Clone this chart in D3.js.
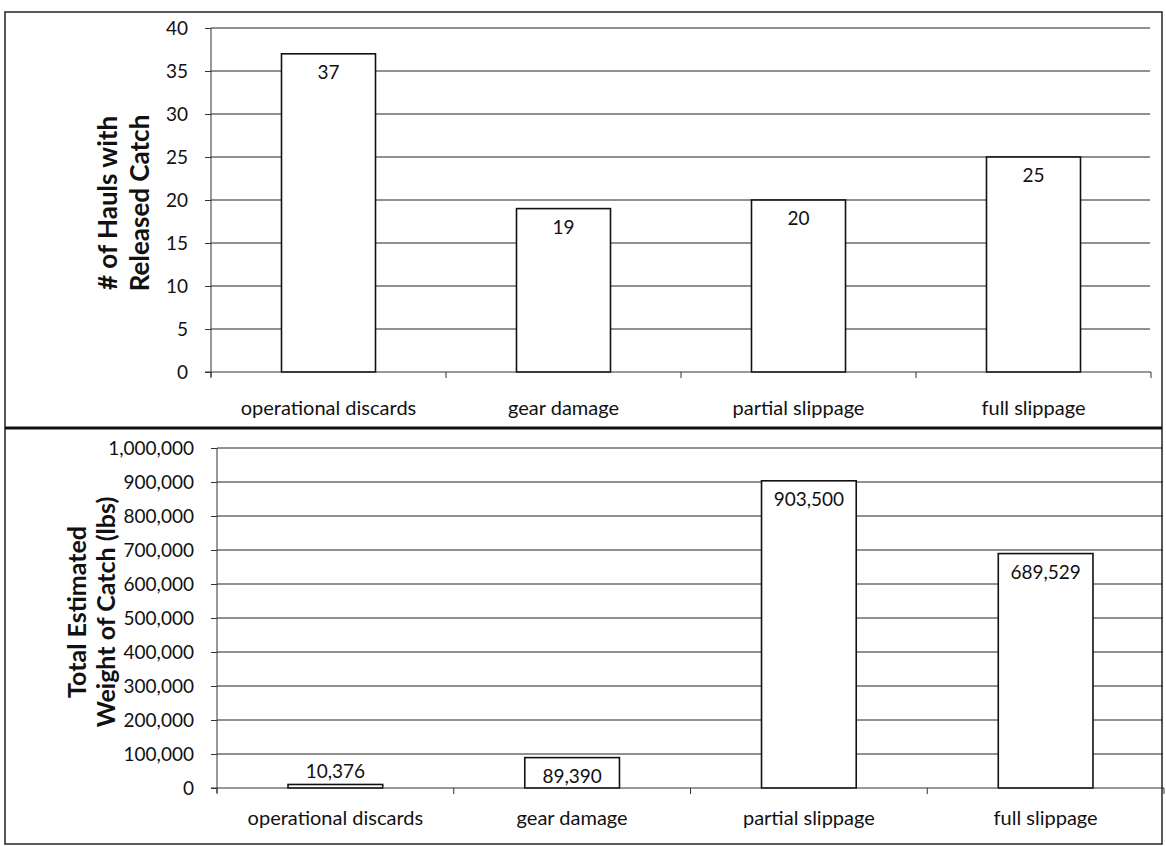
<!DOCTYPE html>
<html>
<head>
<meta charset="utf-8">
<script src="https://cdn.jsdelivr.net/npm/d3@7"></script>
<style>
  body { margin: 0; background: #fff; }
  svg { display: block; font-family: Lato, "Open Sans", sans-serif; }
  .grid line { stroke: #222; stroke-width: 1; }
  .axis path, .axis line { stroke: #333; }
  .bar { fill: #fff; stroke: #111; stroke-width: 1.6; }
</style>
</head>
<body>
<div id="container"></div>
<script>
const categories = ["operational discards", "gear damage", "partial slippage", "full slippage"];
const haulCounts = [37, 19, 20, 25];
const catchWeights = [10376, 89390, 903500, 689529];
const haulTicks = [0, 5, 10, 15, 20, 25, 30, 35, 40];
const weightTicks = [0, 100000, 200000, 300000, 400000, 500000, 600000, 700000, 800000, 900000, 1000000];

const W = 1166, H = 846;

const svg = d3.select("#container")
    .append("svg")
    .attr("width", W)
    .attr("height", H);

// frames
svg.append("rect")
    .attr("x", 5).attr("y", 12)
    .attr("width", 1157).attr("height", 832)
    .attr("fill", "none").attr("stroke", "#222").attr("stroke-width", 1.5);
svg.append("line")
    .attr("x1", 5).attr("x2", 1162)
    .attr("y1", 428).attr("y2", 428)
    .attr("stroke", "#111").attr("stroke-width", 3);

function drawPanel(opts) {
    const x = d3.scaleBand()
        .domain(categories)
        .range([opts.left, opts.right])
        .paddingInner(0)
        .paddingOuter(0);

    const y = d3.scaleLinear()
        .domain([0, opts.max])
        .range([opts.bottom, opts.top]);

    const g = svg.append("g");

    // gridlines
    g.append("g")
        .attr("class", "grid")
        .selectAll("line")
        .data(opts.ticks.filter(t => t > 0))
        .enter()
        .append("line")
        .attr("x1", opts.left)
        .attr("x2", opts.gridRight)
        .attr("y1", d => y(d))
        .attr("y2", d => y(d));

    // bars
    const bw = x.bandwidth() * 0.4;
    g.selectAll("rect.bar")
        .data(opts.values)
        .enter()
        .append("rect")
        .attr("class", "bar")
        .attr("x", (d, i) => x(categories[i]) + (x.bandwidth() - bw) / 2)
        .attr("y", d => y(d))
        .attr("width", bw)
        .attr("height", d => y(0) - y(d));

    // value labels
    g.selectAll("text.val")
        .data(opts.values)
        .enter()
        .append("text")
        .attr("class", "val")
        .attr("x", (d, i) => x(categories[i]) + x.bandwidth() / 2)
        .attr("y", d => (y(0) - y(d) > 30) ? y(d) + 25 : y(d) - 6)
        .attr("text-anchor", "middle")
        .attr("font-size", 19)
        .attr("fill", "#111")
        .text(d => opts.fmt(d));

    // y axis
    const yAxis = d3.axisLeft(y)
        .tickValues(opts.ticks)
        .tickFormat(opts.fmt)
        .tickSize(6)
        .tickPadding(17);
    const ya = g.append("g")
        .attr("class", "axis")
        .attr("transform", "translate(" + opts.left + ",0)")
        .call(yAxis);
    ya.select(".domain").attr("d", "M0," + opts.top + "V" + (opts.bottom + 5));
    ya.selectAll("text").attr("font-size", 19).attr("fill", "#111")
        .attr("font-family", "Lato, sans-serif");

    // x axis
    const xAxisG = g.append("g").attr("class", "axis");
    xAxisG.append("line")
        .attr("x1", opts.left - 6).attr("x2", opts.right)
        .attr("y1", y(0)).attr("y2", y(0));
    xAxisG.selectAll("line.tk")
        .data(categories.map(c => x(c)).concat([opts.right]))
        .enter()
        .append("line")
        .attr("class", "tk")
        .attr("x1", d => d).attr("x2", d => d)
        .attr("y1", y(0)).attr("y2", y(0) + 6);
    xAxisG.selectAll("text")
        .data(categories)
        .enter()
        .append("text")
        .attr("x", d => x(d) + x.bandwidth() / 2)
        .attr("y", opts.labelY)
        .attr("text-anchor", "middle")
        .attr("font-size", 20)
        .attr("fill", "#111")
        .text(d => d);

    // y title
    const t = g.append("text")
        .attr("transform", "translate(" + opts.titleX + "," + opts.titleY + ") rotate(-90)")
        .attr("text-anchor", "middle")
        .attr("font-size", opts.titleSize)
        .attr("font-weight", "bold")
        .attr("fill", "#111");
    opts.title.forEach((line, i) => {
        t.append("tspan")
            .attr("x", 0)
            .attr("dy", i === 0 ? 0 : opts.titleGap)
            .text(line);
    });
}

drawPanel({
    values: haulCounts,
    ticks: haulTicks,
    max: 40,
    left: 211, right: 1151, gridRight: 1150,
    top: 28, bottom: 372,
    labelY: 415,
    fmt: d3.format("d"),
    title: ["# of Hauls with", "Released Catch"],
    titleX: 117, titleY: 203, titleSize: 26, titleGap: 32
});

drawPanel({
    values: catchWeights,
    ticks: weightTicks,
    max: 1000000,
    left: 217, right: 1164, gridRight: 1163,
    top: 448, bottom: 788,
    labelY: 825,
    fmt: d3.format(","),
    title: ["Total Estimated", "Weight of Catch (lbs)"],
    titleX: 86, titleY: 612, titleSize: 25, titleGap: 29
});
</script>
</body>
</html>
